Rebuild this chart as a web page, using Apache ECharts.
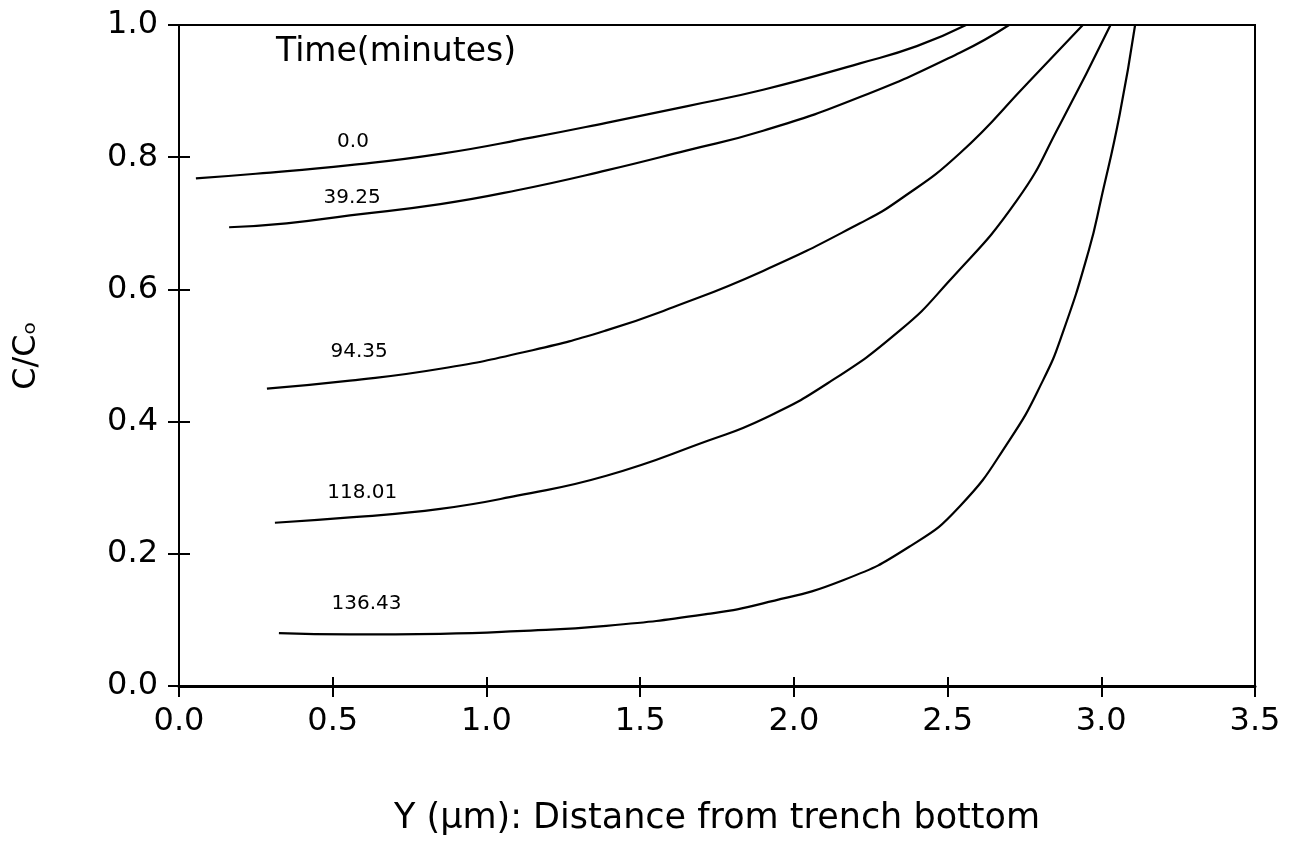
<!DOCTYPE html>
<html>
<head>
<meta charset="utf-8">
<script src="https://cdn.jsdelivr.net/npm/echarts@6/dist/echarts.min.js"></script>
<style>
  html, body { margin: 0; padding: 0; background: #fff; }
  #chart { width: 1301px; height: 844px; }
</style>
</head>
<body>
<div id="chart"></div>
<script>
// C/Co profiles vs distance from trench bottom, one per time (minutes)
const timeLabels = ['0.0', '39.25', '94.35', '118.01', '136.43'];

const curve0 = [[0.055,0.768],[0.25,0.775],[0.556,0.788],[0.85,0.805],[1.15,0.830],[1.39,0.852],[1.65,0.877],[1.9,0.902],[2.215,0.942],[2.4,0.968],[2.56,1.0]];
const curve39 = [[0.163,0.694],[0.35,0.700],[0.556,0.712],[0.85,0.729],[1.1,0.750],[1.39,0.780],[1.65,0.810],[1.9,0.840],[2.215,0.891],[2.54,0.958],[2.70,1.0]];
const curve94 = [[0.286,0.450],[0.556,0.462],[0.85,0.480],[1.15,0.508],[1.39,0.538],[1.607,0.573],[1.9,0.628],[2.215,0.700],[2.345,0.736],[2.54,0.806],[2.76,0.912],[2.94,1.0]];
const curve118 = [[0.312,0.247],[0.556,0.255],[0.85,0.268],[1.1,0.288],[1.39,0.318],[1.72,0.371],[1.9,0.404],[2.11,0.458],[2.345,0.538],[2.5,0.610],[2.726,0.735],[2.866,0.850],[3.03,1.0]];
const curve136 = [[0.325,0.080],[0.556,0.078],[0.85,0.079],[1.1,0.083],[1.39,0.091],[1.72,0.109],[1.9,0.125],[2.16,0.160],[2.38,0.212],[2.54,0.272],[2.70,0.371],[2.81,0.462],[2.875,0.535],[2.96,0.660],[3.0,0.738],[3.06,0.865],[3.11,1.0]];

// where the time labels sit (data coords)
const labelPos = [[0.566,0.823],[0.563,0.739],[0.586,0.506],[0.596,0.292],[0.61,0.124]];
const legendTitle = 'Time(minutes)';
const legendTitlePos = [0.706, 0.958];

const curves = [curve0, curve39, curve94, curve118, curve136];
const font = 'DejaVu Sans';

const chart = echarts.init(document.getElementById('chart'));

const xBase = { type: 'value', min: 0, max: 3.5, interval: 0.5, position: 'bottom', splitLine: { show: false } };
const yBase = { type: 'value', min: 0, max: 1.0, interval: 0.2, position: 'left', splitLine: { show: false } };

const lineSeries = curves.map(function (c, i) {
  return {
    name: timeLabels[i],
    type: 'line',
    data: c,
    smooth: 0.5,
    showSymbol: false,
    lineStyle: { color: '#000', width: 2.2 },
    silent: true
  };
});

const labelData = labelPos.map(function (p, i) {
  return { value: p, name: timeLabels[i] };
});

chart.setOption({
  animation: false,
  backgroundColor: '#fff',
  grid: {
    left: 179, right: 46, top: 25, bottom: 158,
    show: true, borderColor: '#000', borderWidth: 2, backgroundColor: 'transparent'
  },
  xAxis: [
    Object.assign({}, xBase, {
      name: 'Y (μm): Distance from trench bottom',
      nameLocation: 'middle',
      nameGap: 115,
      nameTextStyle: { fontFamily: font, fontSize: 35, color: '#000' },
      axisLine: { show: true, lineStyle: { color: '#000', width: 3 } },
      axisTick: { show: true, inside: false, length: 11, lineStyle: { color: '#000', width: 2 } },
      axisLabel: {
        fontFamily: font, fontSize: 32, color: '#000', margin: 20,
        formatter: function (v) { return v.toFixed(1); }
      }
    }),
    Object.assign({}, xBase, {
      axisLine: { show: false },
      axisTick: { show: true, inside: true, length: 9, lineStyle: { color: '#000', width: 2 } },
      axisLabel: { show: false }
    })
  ],
  yAxis: [
    Object.assign({}, yBase, {
      name: 'C/Cₒ',
      nameLocation: 'middle',
      nameRotate: 90,
      nameGap: 136,
      nameTextStyle: { fontFamily: font, fontSize: 32, color: '#000' },
      axisLine: { show: true, lineStyle: { color: '#000', width: 2 } },
      axisTick: { show: true, inside: false, length: 11, lineStyle: { color: '#000', width: 2 } },
      axisLabel: {
        fontFamily: font, fontSize: 32, color: '#000', margin: 21,
        formatter: function (v) { return v.toFixed(1); }
      }
    }),
    Object.assign({}, yBase, {
      axisLine: { show: false },
      axisTick: { show: true, inside: true, length: 11, lineStyle: { color: '#000', width: 2 } },
      axisLabel: { show: false }
    })
  ],
  series: lineSeries.concat([
    {
      type: 'scatter',
      symbolSize: 0,
      silent: true,
      itemStyle: { opacity: 1 },
      data: labelData,
      label: {
        show: true, position: 'inside',
        formatter: function (p) { return p.name; },
        fontFamily: font, fontSize: 20, color: '#000'
      }
    },
    {
      type: 'scatter',
      symbolSize: 0,
      silent: true,
      itemStyle: { opacity: 1 },
      data: [{ value: legendTitlePos, name: legendTitle }],
      label: {
        show: true, position: 'inside',
        formatter: function (p) { return p.name; },
        fontFamily: font, fontSize: 33, color: '#000'
      }
    }
  ])
});
</script>
</body>
</html>
